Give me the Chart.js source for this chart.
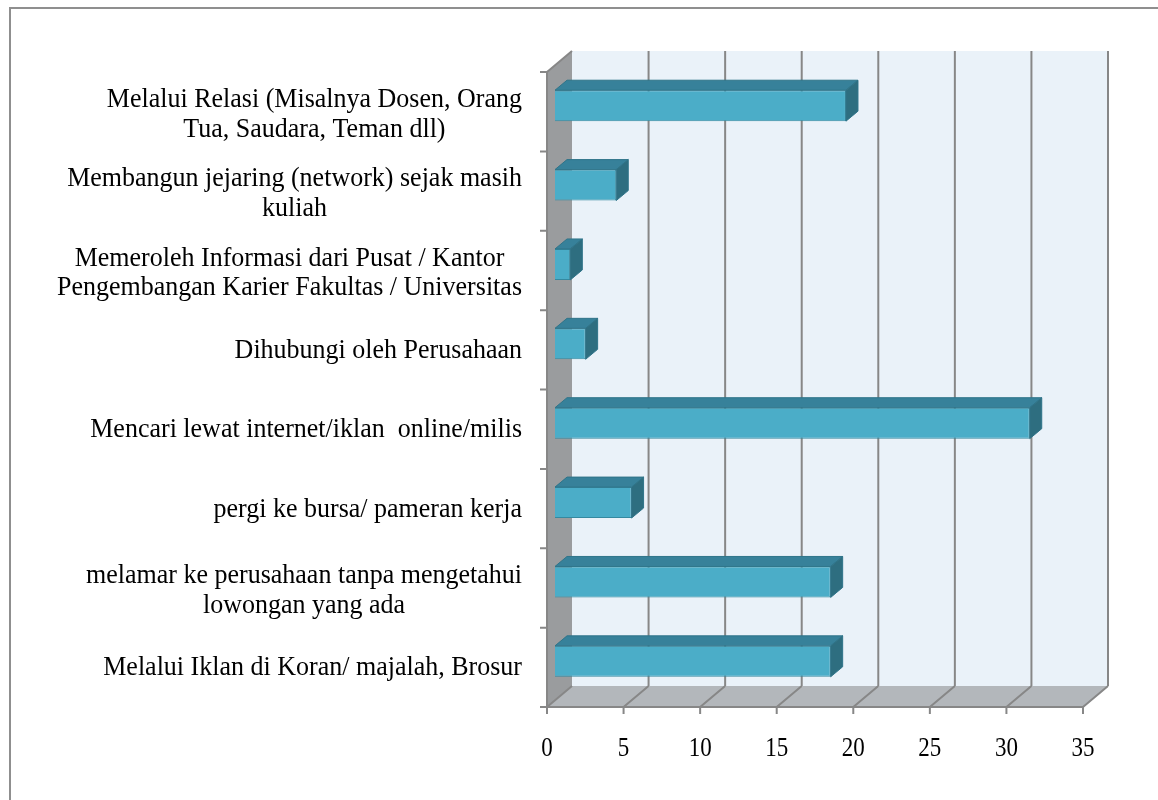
<!DOCTYPE html>
<html>
<head>
<meta charset="utf-8">
<script src="https://cdn.jsdelivr.net/npm/chart.js@4/dist/chart.umd.min.js"></script>
<style>
  html, body { margin: 0; padding: 0; background: #fff; }
  #wrap { position: relative; width: 1158px; height: 800px; overflow: hidden; }
  #frame { position: absolute; left: 9px; top: 7px; width: 1200px; height: 900px; border: 2px solid #8f8f8f; }
  canvas { position: absolute; left: 0; top: 0; }
</style>
</head>
<body>
<div id="wrap">
  <div id="frame"></div>
  <canvas id="chart" width="1158" height="800"></canvas>
</div>
<script>
// categories, top to bottom as shown
const categories = [
    ['Melalui Relasi (Misalnya Dosen, Orang', 'Tua, Saudara, Teman dll)'],
    ['Membangun jejaring (network) sejak masih', 'kuliah'],
    ['Memeroleh Informasi dari Pusat / Kantor', 'Pengembangan Karier Fakultas / Universitas'],
    ['Dihubungi oleh Perusahaan'],
    ['Mencari lewat internet/iklan  online/milis'],
    ['pergi ke bursa/ pameran kerja'],
    ['melamar ke perusahaan tanpa mengetahui', 'lowongan yang ada'],
    ['Melalui Iklan di Koran/ majalah, Brosur']
]
const values = [19, 4, 1, 2, 31, 5, 18, 18]
const xTicks = [0, 5, 10, 15, 20, 25, 30, 35]

const FONT = '"Liberation Serif", "Times New Roman", serif'
// 3d depth of the plot box and of the bars
const DEPTH_X = 25, DEPTH_Y = 21
const FACE_X = 8, FACE_Y = 6
const BAR_X = 12, BAR_Y = 10

const threeD = {
    id: 'threeD',
    beforeDatasetsDraw(chart) {
        const { ctx, chartArea: a, scales: { x } } = chart
        ctx.save()
        // back wall
        ctx.fillStyle = '#eaf2f9'
        ctx.fillRect(a.left + DEPTH_X, a.top - DEPTH_Y, a.right - a.left, a.bottom - a.top)
        // left wall
        ctx.fillStyle = '#9a9c9e'
        ctx.beginPath()
        ctx.moveTo(a.left, a.top)
        ctx.lineTo(a.left + DEPTH_X, a.top - DEPTH_Y)
        ctx.lineTo(a.left + DEPTH_X, a.bottom - DEPTH_Y)
        ctx.lineTo(a.left, a.bottom)
        ctx.closePath()
        ctx.fill()
        // floor
        ctx.fillStyle = '#b3b7bb'
        ctx.beginPath()
        ctx.moveTo(a.left, a.bottom)
        ctx.lineTo(a.left + DEPTH_X, a.bottom - DEPTH_Y)
        ctx.lineTo(a.right + DEPTH_X, a.bottom - DEPTH_Y)
        ctx.lineTo(a.right, a.bottom)
        ctx.closePath()
        ctx.fill()

        ctx.strokeStyle = '#878787'
        ctx.lineWidth = 2
        xTicks.forEach(v => {
            const px = x.getPixelForValue(v)
            ctx.beginPath()
            if (v > 0) {
                ctx.moveTo(px + DEPTH_X, a.top - DEPTH_Y)
                ctx.lineTo(px + DEPTH_X, a.bottom - DEPTH_Y)
            }
            ctx.moveTo(px + DEPTH_X, a.bottom - DEPTH_Y)
            ctx.lineTo(px, a.bottom)
            ctx.stroke()
        })
        // left wall top edge
        ctx.beginPath()
        ctx.moveTo(a.left, a.top)
        ctx.lineTo(a.left + DEPTH_X, a.top - DEPTH_Y)
        ctx.stroke()
        ctx.restore()

        // front faces are drawn by chart.js, pushed back into the box
        ctx.save()
        ctx.translate(FACE_X, -FACE_Y)
    },
    afterDatasetsDraw(chart) {
        const { ctx, chartArea: a } = chart
        ctx.restore()
        const meta = chart.getDatasetMeta(0)
        ctx.save()
        ctx.translate(FACE_X, -FACE_Y)
        ctx.lineWidth = 1
        meta.data.forEach(bar => {
            const top = bar.y - bar.height / 2
            const bottom = bar.y + bar.height / 2
            // top face
            ctx.fillStyle = '#37819a'
            ctx.strokeStyle = '#2f7489'
            ctx.beginPath()
            ctx.moveTo(bar.base, top)
            ctx.lineTo(bar.base + BAR_X, top - BAR_Y)
            ctx.lineTo(bar.x + BAR_X, top - BAR_Y)
            ctx.lineTo(bar.x, top)
            ctx.closePath()
            ctx.fill()
            ctx.stroke()
            // side face
            ctx.fillStyle = '#2e6e80'
            ctx.beginPath()
            ctx.moveTo(bar.x, top)
            ctx.lineTo(bar.x + BAR_X, top - BAR_Y)
            ctx.lineTo(bar.x + BAR_X, bottom - BAR_Y)
            ctx.lineTo(bar.x, bottom)
            ctx.closePath()
            ctx.fill()
            ctx.stroke()
        })
        ctx.restore()

        // axis lines and tick marks
        const { x } = chart.scales
        ctx.save()
        ctx.strokeStyle = '#878787'
        ctx.lineWidth = 2
        ctx.beginPath()
        ctx.moveTo(a.left, a.top)
        ctx.lineTo(a.left, a.bottom)
        ctx.lineTo(a.right, a.bottom)
        const band = (a.bottom - a.top) / categories.length
        for (let i = 0; i <= categories.length; i++) {
            const py = a.top + i * band
            ctx.moveTo(a.left - 7, py)
            ctx.lineTo(a.left, py)
        }
        xTicks.forEach(v => {
            const px = x.getPixelForValue(v)
            ctx.moveTo(px, a.bottom)
            ctx.lineTo(px, a.bottom + 7)
        })
        ctx.stroke()
        ctx.restore()
    },
    afterDraw(chart) {
        const { ctx, chartArea: a, scales: { x, y } } = chart
        // category labels: block right aligned, lines centred
        ctx.save()
        ctx.font = '26px ' + FONT
        ctx.fillStyle = '#000'
        ctx.textAlign = 'center'
        ctx.textBaseline = 'middle'
        const lineH = 29.5
        categories.forEach((lines, i) => {
            const w = Math.max(...lines.map(l => ctx.measureText(l).width))
            const cx = a.left - 25 - w / 2
            const cy = y.getPixelForValue(i) + (lines.length > 1 ? 3 : 1)
            lines.forEach((l, j) => {
                const ly = cy + (j - (lines.length - 1) / 2) * lineH
                ctx.save()
                ctx.translate(cx, ly)
                ctx.scale(1, 1.05)
                ctx.fillText(l, 0, 0)
                ctx.restore()
            })
        })
        ctx.restore()

        // value axis labels, slightly tall digits like the original
        ctx.save()
        ctx.font = '23px ' + FONT
        ctx.fillStyle = '#000'
        ctx.textAlign = 'center'
        ctx.textBaseline = 'middle'
        xTicks.forEach(v => {
            ctx.save()
            ctx.translate(x.getPixelForValue(v), a.bottom + 42)
            ctx.scale(1, 1.17)
            ctx.fillText(String(v), 0, 0)
            ctx.restore()
        })
        ctx.restore()
    }
}

new Chart(document.getElementById('chart'), {
    type: 'bar',
    data: {
        labels: categories,
        datasets: [{
            data: values,
            backgroundColor: '#4badc8',
            borderColor: '#3589a0',
            borderWidth: 1,
            barPercentage: 0.39,
            categoryPercentage: 1
        }]
    },
    options: {
        indexAxis: 'y',
        responsive: false,
        animation: false,
        layout: { padding: { top: 72, right: 75, left: 0, bottom: 0 } },
        plugins: { legend: { display: false }, tooltip: { enabled: false } },
        scales: {
            x: {
                min: 0,
                max: 35,
                afterBuildTicks: s => { s.ticks = xTicks.map(v => ({ value: v })) },
                ticks: { display: false },
                grid: { display: false, drawTicks: false },
                border: { display: false },
                afterFit: s => { s.height = 93 }
            },
            y: {
                ticks: { display: false },
                grid: { display: false, drawTicks: false },
                border: { display: false },
                afterFit: s => { s.width = 547 }
            }
        }
    },
    plugins: [threeD]
})
</script>
</body>
</html>
